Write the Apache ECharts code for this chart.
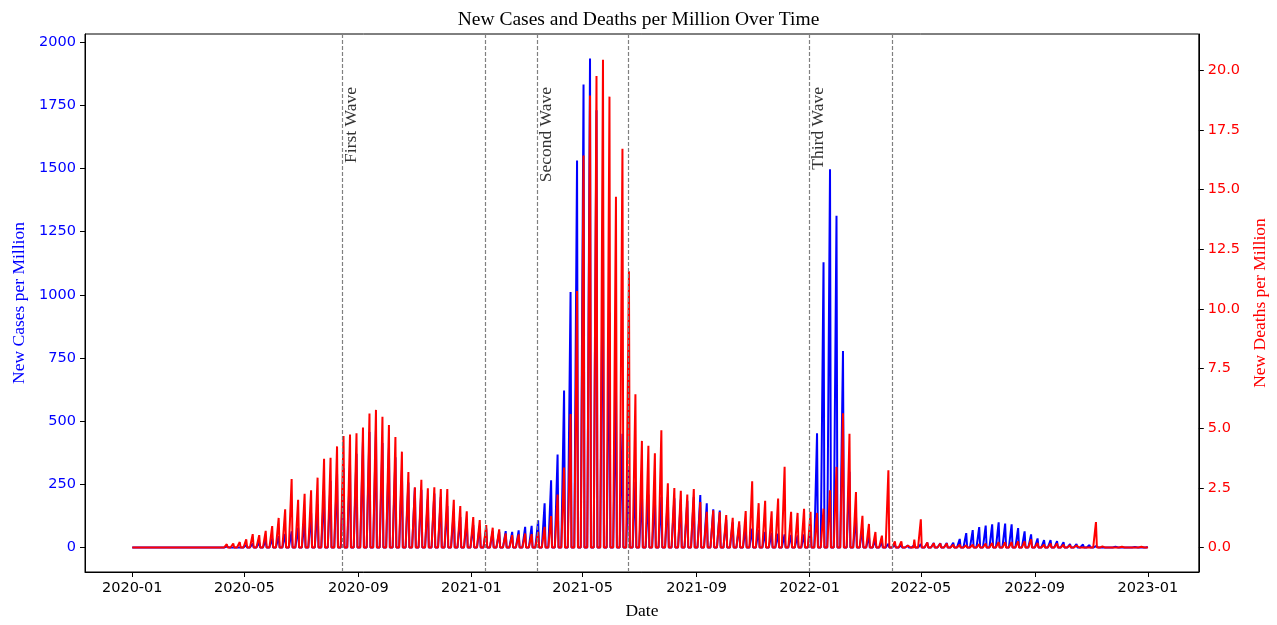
<!DOCTYPE html>
<html>
<head>
<meta charset="utf-8">
<script src="https://cdn.jsdelivr.net/npm/echarts@6/dist/echarts.min.js"></script>
<style>
html,body{margin:0;padding:0;background:#fff;}
#chart{width:1277px;height:625px;}
</style>
</head>
<body>
<div id="chart"></div>
<script>
// Weekly reporting dates: every Sunday from 2020-01-05 (week 0) to 2023-01-01 (week 156)
const firstWeek = '2020-01-05';
const seriesStart = '2020-01-01';
const seriesEnd = '2023-01-01';

// New cases per million, one value per weekly report (weeks 0..156)
const weeklyCases = [
  0,0,0,0,0,0,0,0,0,0,
  0.05,0.2,0.6,1.8,3.6,5,7,10,16,20,
  29,36,45,54,64,79,107,136,171,229,
  264,293,314,329,371,421,457,464,414,393,
  357,307,257,236,229,193,214,200,164,143,
  121,107,89,86,75,64,62,65,62,68,
  82,86,108,175,266,368,621,1011,1531,1832,
  1935,1730,1290,930,640,450,320,260,225,210,
  205,200,200,195,190,185,200,208,175,151,
  146,110,100,90,80,75,70,62,58,55,
  52,50,48,52,90,452,1129,1497,1313,778,
  300,130,75,45,28,20,15,11,9,8,
  10,14,19,18,17,18,19,34,57,69,
  81,87,92,100,95,92,77,64,52,36,
  29,29,25,21,14,14,12,10,6,5,
  4,3,3,3,2,2,2
];

// New deaths per million, one value per weekly report (weeks 0..156)
const weeklyDeaths = [
  0,0,0,0,0,0,0,0,0,0,
  0,0,0.01,0.05,0.14,0.17,0.23,0.34,0.56,0.52,
  0.70,0.90,1.24,1.60,2.87,2.00,2.25,2.40,2.93,3.72,
  3.76,4.24,4.67,4.74,4.79,5.03,5.62,5.77,5.48,5.14,
  4.63,4.02,3.17,2.53,2.84,2.48,2.53,2.45,2.45,2.00,
  1.74,1.52,1.28,1.15,0.94,0.83,0.76,0.59,0.52,0.55,
  0.59,0.56,0.66,0.87,1.32,2.22,3.35,5.60,10.75,16.43,
  18.95,19.76,20.45,18.90,14.70,16.72,11.58,6.42,4.47,4.27,
  3.95,4.92,2.69,2.49,2.38,2.22,2.45,1.91,1.50,1.56,
  1.49,1.36,1.25,1.10,1.53,2.78,1.86,1.96,1.52,2.05,
  3.39,1.50,1.45,1.62,1.50,1.45,1.63,2.40,3.38,5.63,
  4.77,2.33,1.33,0.99,0.65,0.50,3.24,0.26,0.26,0.08,
  0.33,1.18,0.21,0.18,0.17,0.17,0.12,0.12,0.10,0.12,
  0.14,0.17,0.19,0.23,0.22,0.23,0.26,0.26,0.34,0.19,
  0.12,0.17,0.17,0.12,0.10,0.08,0.08,0.07,1.07,0.05,
  0.04,0.03,0.03,0.03,0.02,0.03,0.02
];

// Wave boundary dates (dashed lines) and their labels
const waveDates = ['2020-08-15','2021-01-16','2021-03-13','2021-06-19','2022-01-01','2022-03-31'];
const waveLabels = [
  {date:'2020-08-15', text:'First Wave'},
  {date:'2021-03-13', text:'Second Wave'},
  {date:'2022-01-01', text:'Third Wave'}
];
const waveLabelLevel = 1822;

// Tick labels
const xTickDates = ['2020-01-01','2020-05-01','2020-09-01','2021-01-01','2021-05-01','2021-09-01','2022-01-01','2022-05-01','2022-09-01','2023-01-01'];
const casesTicks = [0,250,500,750,1000,1250,1500,1750,2000];
const deathsTicks = [0,2.5,5,7.5,10,12.5,15,17.5,20];

const DAY = 86400000;
function ts(s){ const p = s.split('-').map(Number); return Date.UTC(p[0], p[1]-1, p[2]); }

// Daily series: value on the weekly reporting day, zero on the other days
function buildDaily(weekly){
  const out = [];
  const w0 = ts(firstWeek);
  for (let t = ts(seriesStart); t <= ts(seriesEnd); t += DAY){
    const d = Math.round((t - w0) / DAY);
    let v = 0;
    if (d >= 0 && d % 7 === 0 && d/7 < weekly.length) v = weekly[d/7];
    out.push([t, v]);
  }
  return out;
}

const serif = "'Liberation Serif','DejaVu Serif',serif";
const sans = "'DejaVu Sans',sans-serif";

const chart = echarts.init(document.getElementById('chart'), null, {renderer:'canvas'});
const xTicks = xTickDates.map(ts);

chart.setOption({
  animation: false,
  backgroundColor: '#fff',
  title: {
    text: 'New Cases and Deaths per Million Over Time',
    left: 'center', top: 5,
    textStyle: {fontFamily: serif, fontSize: 19.5, fontWeight: 'normal', color: '#000'}
  },
  grid: {left: 85, right: 66, top: 34, bottom: 45, show: true, borderColor: '#000', borderWidth: 1},
  xAxis: {
    type: 'value',
    min: ts('2019-11-11'), max: ts('2023-02-25'),
    splitLine: {show: false},
    axisLine: {show: true, onZero: false, lineStyle: {color: '#000', width: 1}},
    axisTick: {show: true, customValues: xTicks, length: 5, lineStyle: {color: '#000'}},
    axisLabel: {
      customValues: xTicks, color: '#000', fontFamily: sans, fontSize: 14.5, margin: 9,
      formatter: function(v){ const d = new Date(v); const m = d.getUTCMonth()+1; return d.getUTCFullYear() + '-' + (m<10?'0':'') + m; }
    },
    name: 'Date', nameLocation: 'middle', nameGap: 30,
    nameTextStyle: {fontFamily: serif, fontSize: 17.5, color: '#000'}
  },
  yAxis: [
    {
      type: 'value', position: 'left', min: -96.75, max: 2031.75,
      splitLine: {show: false},
      axisLine: {show: true, lineStyle: {color: '#000'}},
      axisTick: {show: true, customValues: casesTicks, length: 5, lineStyle: {color: '#000'}},
      axisLabel: {customValues: casesTicks, color: '#0000ff', fontFamily: sans, fontSize: 14.5, margin: 9,
        formatter: function(v){ return String(v); }},
      name: 'New Cases per Million', nameLocation: 'middle', nameGap: 57,
      nameTextStyle: {fontFamily: serif, fontSize: 17.5, color: '#0000ff'}
    },
    {
      type: 'value', position: 'right', min: -1.025, max: 21.525,
      splitLine: {show: false},
      axisLine: {show: true, lineStyle: {color: '#000'}},
      axisTick: {show: true, customValues: deathsTicks, length: 5, lineStyle: {color: '#000'}},
      axisLabel: {customValues: deathsTicks, color: '#ff0000', fontFamily: sans, fontSize: 14.5, margin: 9,
        formatter: function(v){ return v.toFixed(1); }},
      name: 'New Deaths per Million', nameLocation: 'middle', nameGap: 47,
      nameTextStyle: {fontFamily: serif, fontSize: 17.5, color: '#ff0000'}
    }
  ],
  series: [
    {
      name: 'New Cases per Million', type: 'line', yAxisIndex: 0,
      data: buildDaily(weeklyCases), showSymbol: false, sampling: null,
      lineStyle: {color: '#0000ff', width: 2}, itemStyle: {color: '#0000ff'},
      z: 2
    },
    {
      name: 'New Deaths per Million', type: 'line', yAxisIndex: 1,
      data: buildDaily(weeklyDeaths), showSymbol: false, sampling: null,
      lineStyle: {color: '#ff0000', width: 2}, itemStyle: {color: '#ff0000'},
      z: 3,
      markLine: {
        silent: true, symbol: ['none','none'], animation: false,
        label: {show: false},
        lineStyle: {color: '#808080', type: [4,2], width: 1.2},
        data: waveDates.map(function(d){ return {xAxis: ts(d)}; })
      }
    },
    {
      type: 'scatter', yAxisIndex: 0, symbolSize: 0, silent: true, z: 5,
      data: waveLabels.map(function(w){ return {value: [ts(w.date), waveLabelLevel], name: w.text}; }),
      label: {
        show: true, position: [0,0], rotate: 90, align: 'right', verticalAlign: 'top',
        formatter: function(p){ return p.name; },
        fontFamily: serif, fontSize: 17.5, color: '#000'
      }
    }
  ]
});
</script>
</body>
</html>
